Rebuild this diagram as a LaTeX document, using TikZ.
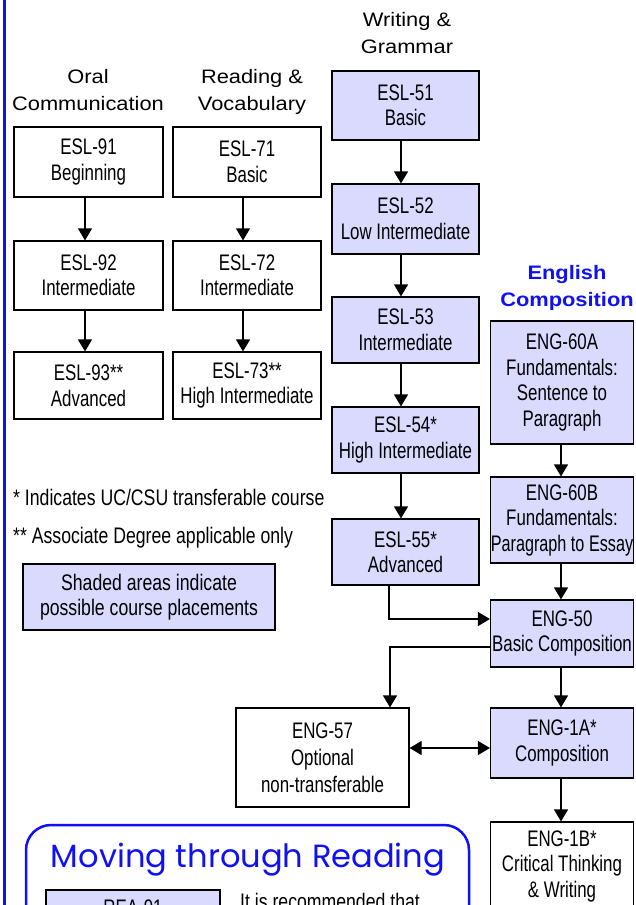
\documentclass[tikz,border=0pt]{standalone}
\usepackage{fontspec}
\usepackage{graphicx}
\setmainfont{Liberation Sans}
\newfontfamily\boxfont[FakeStretch=0.75]{Liberation Sans}
\newfontfamily\notefont[FakeStretch=0.785]{Liberation Sans}
\newfontfamily\headfont[FakeStretch=1.12]{Liberation Sans}
\newfontfamily\titlefont{Poppins}
\usetikzlibrary{arrows.meta}
\definecolor{shade}{RGB}{218,218,255}
\definecolor{myblue}{RGB}{16,16,245}
\begin{document}
\begin{tikzpicture}[x=1pt,y=-1pt,
  box/.style={draw=black,line width=1.2pt,inner sep=0pt,align=center,
    font=\boxfont\fontsize{22.5}{25.5}\selectfont},
  shaded/.style={box,fill=shade},
  head/.style={align=center,inner sep=0pt,font=\headfont\fontsize{19.5}{26.5}\selectfont},
  note/.style={inner sep=0pt,font=\notefont\fontsize{22.5}{25.5}\selectfont},
  arr/.style={line width=1.2pt,-{Triangle[width=14pt,length=12pt]}},
  darr/.style={line width=1.2pt,{Triangle[width=14pt,length=12pt]}-{Triangle[width=14pt,length=12pt]}},
]
\useasboundingbox (0,0) rectangle (635,905);
\clip (0,0) rectangle (635,905);
\fill[white] (0,0) rectangle (635,905);

% left blue rule
\draw[myblue,line width=2.5pt] (4.7,-5) -- (4.7,910);

% headers
\node[head] (h1) at (88,90) {Oral\\Communication};
\node[head] (h2) at (252,92) {Reading \&\\Vocabulary};
\node[head] (h3) at (407,33) {Writing \&\\Grammar};
\node[head,text=myblue,font=\headfont\bfseries\fontsize{19.5}{26.5}\selectfont] (h4) at (567,288) {English\\Composition};

% column 1
\node[box,minimum width=149pt,minimum height=70pt] (e91) at (88.5,162) {ESL-91\\Beginning};
\node[box,minimum width=149pt,minimum height=69pt] (e92) at (88.5,275.5) {ESL-92\\Intermediate};
\node[box,minimum width=149pt,minimum height=67pt] (e93) at (88.5,385.5) {ESL-93**\\Advanced};

% column 2
\node[box,minimum width=148pt,minimum height=70pt] (e71) at (247,162) {ESL-71\\Basic};
\node[box,minimum width=148pt,minimum height=69pt] (e72) at (247,275.5) {ESL-72\\Intermediate};
\node[box,minimum width=148pt,minimum height=67pt] (e73) at (247,385.5) {ESL-73**\\High Intermediate};

% column 3
\node[shaded,minimum width=147pt,minimum height=69pt] (e51) at (405.5,105.5) {ESL-51\\Basic};
\node[shaded,minimum width=147pt,minimum height=70pt] (e52) at (405.5,219) {ESL-52\\Low Intermediate};
\node[shaded,minimum width=147pt,minimum height=66pt] (e53) at (405.5,330) {ESL-53\\Intermediate};
\node[shaded,minimum width=147pt,minimum height=66pt] (e54) at (405.5,440) {ESL-54*\\High Intermediate};
\node[shaded,minimum width=147pt,minimum height=66pt] (e55) at (405.5,552) {ESL-55*\\Advanced};

% column 4
\node[shaded,minimum width=143pt,minimum height=123pt] (e60a) at (562,382.5) {ENG-60A\\Fundamentals:\\Sentence to\\Paragraph};
\node[shaded,minimum width=143pt,minimum height=86pt] (e60b) at (562,520) {ENG-60B\\Fundamentals:\\\scalebox{0.96}[1]{Paragraph to Essay}};
\node[shaded,minimum width=143pt,minimum height=67pt] (e50) at (562,633.5) {ENG-50\\Basic Composition};
\node[shaded,minimum width=143pt,minimum height=70pt] (e1a) at (562,743) {ENG-1A*\\Composition};
\node[box,minimum width=143pt,minimum height=88pt] (e1b) at (562,866) {ENG-1B*\\Critical Thinking\\\& Writing};

\node[box,minimum width=173pt,minimum height=99pt,font=\boxfont\fontsize{22.5}{27}\selectfont] (e57) at (322.5,757.5) {ENG-57\\Optional\\non-transferable};

% notes
\node[note,anchor=base west] (n1) at (13,505) {* Indicates UC/CSU transferable course};
\node[note,anchor=base west] (n2) at (13,543) {** Associate Degree applicable only};
\node[shaded,minimum width=252pt,minimum height=66pt,font=\notefont\fontsize{22.5}{25.5}\selectfont] (leg) at (149,597) {Shaded areas indicate\\possible course placements};

% moving through reading
\node[draw=myblue,line width=2.5pt,rounded corners=25pt,minimum width=443pt,minimum height=150pt,inner sep=0pt] (mtr) at (247.5,900) {};
\node[anchor=base,inner sep=0pt,text=myblue] (mtitle) at (248,867) {\resizebox{394pt}{!}{\titlefont Moving through Reading}};
\node[shaded,minimum width=174pt,minimum height=35pt] (rea) at (133,907.5) {REA-91};
\node[note,anchor=base west] (rec) at (240,909) {It is recommended that};

% arrow columns
\coordinate (x1) at (85,0);
\coordinate (x2) at (243,0);
\coordinate (x3) at (401,0);
\coordinate (x4) at (561,0);
\draw[arr] (e91.south -| x1) -- (e92.north -| x1);
\draw[arr] (e92.south -| x1) -- (e93.north -| x1);
\draw[arr] (e71.south -| x2) -- (e72.north -| x2);
\draw[arr] (e72.south -| x2) -- (e73.north -| x2);
\draw[arr] (e51.south -| x3) -- (e52.north -| x3);
\draw[arr] (e52.south -| x3) -- (e53.north -| x3);
\draw[arr] (e53.south -| x3) -- (e54.north -| x3);
\draw[arr] (e54.south -| x3) -- (e55.north -| x3);
\draw[arr] (e60a.south -| x4) -- (e60b.north -| x4);
\draw[arr] (e60b.south -| x4) -- (e50.north -| x4);
\draw[arr] (e50.south -| x4) -- (e1a.north -| x4);
\draw[arr] (e1a.south -| x4) -- (e1b.north -| x4);

\coordinate (c1) at (389,619);
\coordinate (c2) at (390,647);
\coordinate (c3) at (0,748);
\draw[arr] (e55.south -| c1) |- (e50.west |- c1);
\draw[arr] (e50.west |- c2) -| (e57.north -| c2);
\draw[darr] (e57.east |- c3) -- (e1a.west |- c3);
\end{tikzpicture}
\end{document}
